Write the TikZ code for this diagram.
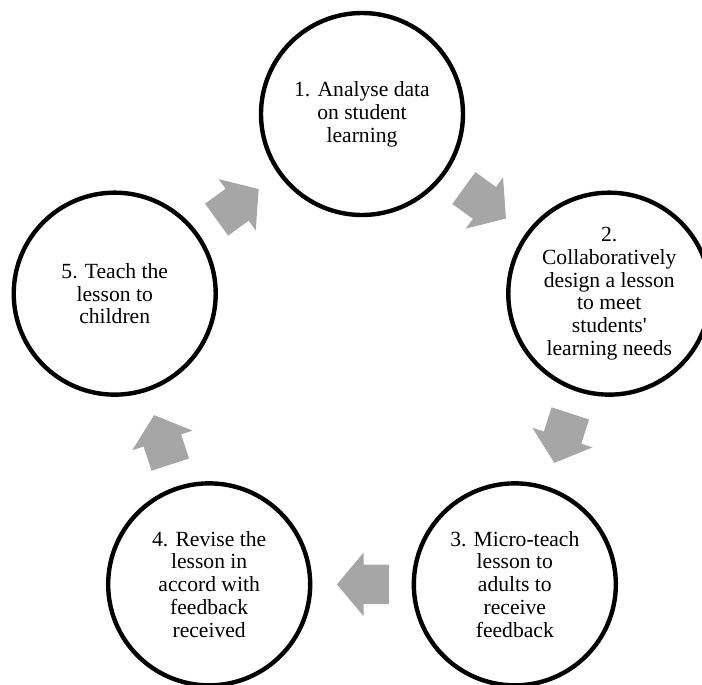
\documentclass[tikz,border=0pt]{standalone}
\usepackage{fontspec}
\setmainfont{Liberation Serif}
\usetikzlibrary{calc,shapes.arrows}
\definecolor{arrowgray}{RGB}{166,166,166}

\begin{document}
\begin{tikzpicture}[thick,
    stage node/.style={circle, draw, line width=2.5pt, minimum size=4.04cm, inner sep=0pt,
        align=center, font=\fontsize{12.3}{13}\selectfont},
    cycle arrow/.style={single arrow, fill=arrowgray, draw=none, inner xsep=0pt, inner ysep=0.38cm,
        minimum height=1.04cm, single arrow head extend=0.24cm,
        single arrow tip angle=100}]

    \useasboundingbox (-7.24,-6.2) rectangle (6.8,7.48);

    % Stages of the cycle
    \node[stage node] (S1) at (90:5.2) {1. Analyse data\\on student\\learning};
    \node[stage node] (S2) at (18:5.2) {2.\\Collaboratively\\design a lesson\\to meet\\students\textquotesingle\\learning needs};
    \node[stage node] (S3) at (-54:5.2) {3. Micro-teach\\lesson to\\adults to\\receive\\feedback};
    \node[stage node] (S4) at (-126:5.2) {4. Revise the\\lesson in\\accord with\\feedback\\received};
    \node[stage node] (S5) at (162:5.2) {5. Teach the\\lesson to\\children};

    % Block arrows between stages
    \node[cycle arrow, rotate=-36] (A12) at ($(S1)!0.47!(S2)$) {};
    \node[cycle arrow, rotate=-108] (A23) at ($(S2)!0.47!(S3)$) {};
    \node[cycle arrow, rotate=180] (A34) at ($(S3)!0.47!(S4)$) {};
    \node[cycle arrow, rotate=108] (A45) at ($(S4)!0.47!(S5)$) {};
    \node[cycle arrow, rotate=36] (A51) at ($(S5)!0.47!(S1)$) {};

\end{tikzpicture}
\end{document}
